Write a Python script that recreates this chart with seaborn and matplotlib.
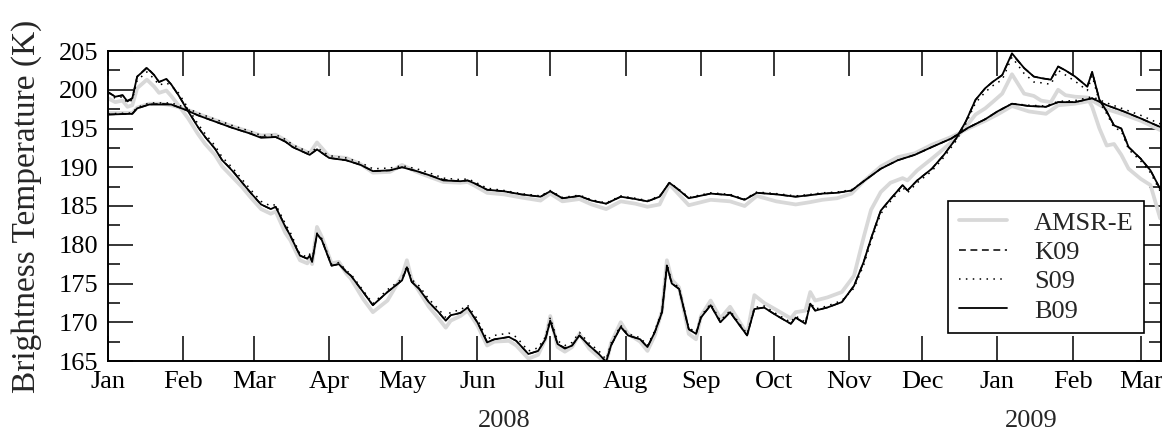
import numpy as np
import pandas as pd
import matplotlib
matplotlib.use("Agg")
import matplotlib.pyplot as plt
import matplotlib.dates as mdates
import matplotlib.transforms as mtransforms
from matplotlib.lines import Line2D
from matplotlib.ticker import MultipleLocator
from matplotlib import font_manager
import seaborn as sns

START = "2008-01-01"

# ---------------- lower (more variable) curve family ----------------
days_lo = [0, 3, 6, 8, 10, 12, 16, 19, 21, 24,
           26, 29, 33, 37, 40, 44, 47, 51, 55, 59,
           63, 67, 69, 73, 75, 79, 82, 83, 84, 86,
           88, 92, 95, 98, 100, 105, 109, 115, 121, 123,
           125, 128, 132, 136, 139, 141, 145, 148, 152, 156,
           159, 165, 168, 173, 177, 180, 182, 185, 188, 191,
           194, 198, 202, 205, 207, 211, 214, 219, 222, 225,
           228, 230, 232, 235, 239, 242, 244, 248, 252, 256,
           259, 263, 266, 270, 275, 281, 283, 287, 289, 291,
           296, 302, 307, 311, 314, 318, 322, 327, 329, 333,
           339, 344, 349, 353, 357, 361, 364, 368, 372, 377,
           381, 384, 388, 391, 394, 398, 403, 405, 408, 411,
           414, 417, 420, 425, 429, 433]

amsr_lo = [198.9, 198.4, 198.6, 197.8, 198.0, 200.2, 201.3, 200.4, 199.6, 199.9,
           199.2, 198.0, 196.3, 194.3, 193.0, 191.6, 190.1, 188.8, 187.5, 186.0,
           184.6, 184.0, 184.3, 181.5, 180.6, 178.0, 177.6, 178.2, 177.5, 182.3,
           181.0, 177.6, 177.8, 176.3, 175.6, 173.0, 171.3, 172.8, 176.0, 178.0,
           175.5, 174.0, 172.0, 170.5, 169.3, 170.2, 170.8, 171.5, 169.6, 167.0,
           167.5, 167.6, 167.0, 165.3, 165.8, 167.8, 170.8, 166.8, 166.2, 166.8,
           168.5, 166.6, 165.5, 164.7, 167.3, 170.0, 168.5, 167.5, 166.3, 168.3,
           171.5, 178.0, 175.5, 174.5, 168.5, 167.8, 170.8, 172.8, 170.5, 172.0,
           170.5, 168.5, 173.5, 172.5, 171.6, 170.5, 171.3, 171.5, 173.9, 172.8,
           173.2, 173.9, 176.0, 181.0, 184.5, 186.8, 188.0, 188.6, 188.3, 189.6,
           191.1, 192.4, 193.8, 195.2, 196.8, 197.6, 198.4, 199.5, 202.0, 199.5,
           199.2, 198.6, 198.4, 200.0, 199.3, 199.1, 199.0, 197.8, 195.0, 192.8,
           193.0, 191.6, 189.8, 188.5, 187.7, 183.4]

k09_lo = [199.7, 199.1, 199.3, 198.6, 198.9, 201.7, 202.9, 201.9, 201.0, 201.4,
          200.7, 199.3, 197.3, 195.2, 193.9, 192.4, 190.9, 189.7, 188.1, 186.6,
          185.2, 184.6, 184.9, 182.4, 181.2, 178.6, 178.2, 178.6, 177.8, 181.4,
          180.6, 177.3, 177.5, 176.6, 176.0, 173.9, 172.2, 173.9, 175.4, 177.1,
          175.2, 174.4, 172.6, 171.3, 170.2, 170.9, 171.2, 171.9, 170.0, 167.5,
          167.8, 168.1, 167.6, 165.9, 166.3, 167.8, 170.2, 167.2, 166.7, 167.0,
          168.3, 167.0, 165.9, 164.9, 167.0, 169.4, 168.3, 167.8, 166.8, 168.7,
          171.3, 177.3, 175.0, 174.3, 169.1, 168.5, 170.6, 172.2, 170.0, 171.3,
          170.0, 168.3, 171.7, 171.9, 170.9, 169.8, 170.6, 169.8, 172.4, 171.5,
          171.9, 172.6, 174.7, 177.8, 180.8, 184.4, 185.9, 187.7, 187.0, 188.3,
          189.8, 191.6, 193.7, 195.9, 198.7, 200.2, 201.0, 201.9, 204.6, 202.8,
          201.7, 201.5, 201.3, 203.0, 202.5, 201.7, 200.4, 202.3, 198.7, 197.2,
          195.4, 195.0, 192.6, 191.1, 189.6, 187.2]

s09_lo = [199.5, 198.9, 199.1, 198.3, 198.7, 201.2, 202.3, 201.4, 200.6, 200.9,
          200.5, 199.6, 197.6, 195.6, 194.3, 192.8, 191.3, 190.0, 188.5, 187.0,
          185.6, 185.0, 185.2, 182.7, 181.6, 178.8, 178.4, 178.8, 178.0, 181.5,
          180.8, 177.5, 177.7, 176.7, 176.2, 174.1, 172.4, 174.2, 175.6, 177.3,
          175.5, 174.7, 173.0, 171.7, 170.6, 171.3, 171.6, 172.2, 170.4, 167.8,
          168.3, 168.6, 168.1, 166.3, 166.7, 168.1, 170.6, 167.6, 167.0, 167.4,
          168.7, 167.3, 166.3, 165.2, 167.3, 169.6, 168.5, 168.0, 167.0, 168.9,
          171.5, 177.6, 175.2, 174.5, 169.3, 168.7, 170.8, 172.4, 170.2, 171.5,
          170.2, 168.5, 171.9, 172.1, 171.1, 170.0, 170.8, 170.0, 172.6, 171.7,
          172.1, 172.8, 174.4, 177.4, 180.4, 184.0, 185.6, 187.4, 186.7, 188.0,
          189.5, 191.3, 193.4, 195.6, 198.3, 199.7, 200.5, 201.3, 204.2, 202.1,
          201.0, 200.9, 200.7, 202.5, 201.9, 201.1, 199.9, 201.8, 198.4, 196.9,
          195.1, 194.7, 192.3, 190.8, 189.3, 186.9]

b09_lo = [199.7, 199.1, 199.3, 198.5, 198.9, 201.7, 202.8, 201.9, 201.0, 201.4,
          200.7, 199.3, 197.2, 195.2, 193.9, 192.4, 190.9, 189.6, 188.1, 186.6,
          185.2, 184.6, 184.9, 182.3, 181.2, 178.6, 178.2, 178.6, 177.8, 181.4,
          180.6, 177.3, 177.5, 176.5, 176.0, 173.9, 172.2, 173.9, 175.4, 177.1,
          175.2, 174.3, 172.6, 171.3, 170.2, 170.9, 171.2, 171.9, 170.0, 167.4,
          167.8, 168.1, 167.6, 165.9, 166.3, 167.8, 170.2, 167.2, 166.6, 167.0,
          168.3, 167.0, 165.9, 164.9, 167.0, 169.4, 168.3, 167.8, 166.8, 168.7,
          171.3, 177.3, 175.0, 174.3, 169.1, 168.5, 170.6, 172.2, 170.0, 171.3,
          170.0, 168.3, 171.7, 171.9, 170.9, 169.8, 170.6, 169.8, 172.4, 171.5,
          171.9, 172.6, 174.7, 177.8, 180.8, 184.4, 185.9, 187.7, 187.0, 188.3,
          189.8, 191.6, 193.7, 195.9, 198.7, 200.2, 201.0, 201.9, 204.7, 202.8,
          201.7, 201.5, 201.3, 203.0, 202.5, 201.7, 200.4, 202.3, 198.7, 197.2,
          195.4, 195.0, 192.6, 191.1, 189.6, 187.2]

# ---------------- upper (smooth) curve family ----------------
days_up = [0, 10, 12, 17, 22, 26, 32, 37, 44, 51,
           58, 63, 69, 73, 76, 83, 86, 91, 98, 104,
           109, 116, 121, 127, 132, 138, 145, 148, 151, 156,
           163, 170, 178, 182, 187, 194, 199, 205, 211, 217,
           222, 227, 231, 234, 239, 248, 256, 262, 267, 275,
           283, 289, 294, 300, 306, 311, 318, 325, 332, 339,
           347, 354, 361, 366, 372, 379, 386, 391, 398, 405,
           411, 418, 425, 433]

amsr_up = [197.0, 197.0, 197.7, 198.2, 198.2, 198.0, 197.5, 196.9, 196.1, 195.3,
           194.6, 194.1, 194.2, 193.5, 192.8, 191.8, 193.2, 191.4, 191.2, 190.4,
           189.3, 189.4, 190.3, 189.4, 188.8, 188.1, 188.0, 188.1, 187.6, 186.7,
           186.5, 186.1, 185.7, 186.6, 185.6, 185.9, 185.2, 184.6, 185.6, 185.3,
           184.9, 185.2, 187.8, 186.8, 185.1, 185.8, 185.6, 185.0, 186.3, 185.6,
           185.2, 185.5, 185.8, 186.0, 186.6, 188.2, 190.1, 191.3, 191.8, 192.9,
           193.9, 195.0, 196.0, 196.8, 197.9, 197.2, 196.9, 198.0, 198.2, 198.6,
           197.5, 196.8, 196.0, 194.8]

k09_up = [196.8, 196.9, 197.6, 198.1, 198.2, 198.1, 197.4, 196.7, 195.9, 195.1,
          194.4, 193.9, 193.9, 193.3, 192.6, 191.6, 192.3, 191.2, 190.9, 190.3,
          189.5, 189.6, 190.0, 189.5, 189.0, 188.4, 188.2, 188.3, 187.9, 187.1,
          186.9, 186.5, 186.2, 186.9, 186.0, 186.3, 185.7, 185.3, 186.2, 185.9,
          185.6, 186.2, 188.0, 187.3, 186.0, 186.6, 186.4, 185.8, 186.7, 186.5,
          186.2, 186.4, 186.6, 186.7, 187.0, 188.2, 189.8, 190.9, 191.6, 192.6,
          193.7, 195.1, 196.2, 197.2, 198.2, 197.9, 197.8, 198.4, 198.4, 198.9,
          198.0, 197.2, 196.3, 195.2]

s09_up = [196.9, 197.0, 197.7, 198.3, 198.3, 198.3, 197.7, 197.0, 196.2, 195.4,
          194.7, 194.1, 194.2, 193.6, 192.9, 191.9, 192.5, 191.5, 191.2, 190.6,
          189.8, 189.9, 190.2, 189.8, 189.3, 188.6, 188.4, 188.5, 188.1, 187.3,
          187.0, 186.6, 186.3, 187.0, 186.1, 186.4, 185.8, 185.4, 186.3, 186.0,
          185.7, 186.3, 188.0, 187.4, 186.1, 186.7, 186.5, 185.9, 186.8, 186.6,
          186.3, 186.5, 186.7, 186.8, 187.1, 188.2, 189.8, 190.9, 191.6, 192.6,
          193.7, 195.1, 196.2, 197.2, 198.2, 198.0, 197.9, 198.5, 198.6, 199.1,
          198.3, 197.5, 196.7, 195.6]

b09_up = [196.8, 196.9, 197.6, 198.1, 198.1, 198.1, 197.4, 196.7, 195.9, 195.1,
          194.4, 193.8, 193.9, 193.3, 192.6, 191.6, 192.3, 191.2, 190.9, 190.3,
          189.5, 189.6, 190.0, 189.5, 189.0, 188.3, 188.2, 188.3, 187.9, 187.1,
          186.9, 186.5, 186.2, 186.9, 186.0, 186.3, 185.7, 185.3, 186.2, 185.9,
          185.6, 186.2, 188.0, 187.3, 186.0, 186.6, 186.4, 185.8, 186.7, 186.5,
          186.2, 186.4, 186.6, 186.7, 187.0, 188.2, 189.8, 190.9, 191.6, 192.6,
          193.7, 195.1, 196.2, 197.2, 198.2, 197.9, 197.8, 198.4, 198.4, 198.9,
          198.0, 197.2, 196.3, 195.2]

series_names = ["AMSR-E", "K09", "S09", "B09"]
year_labels = ["2008", "2009"]
year_label_dates = ["2008-06-12", "2009-01-15"]

# ---------------- styling ----------------
sns.set_style("ticks")
serif_candidates = ["Liberation Serif", "Nimbus Roman", "Times New Roman", "DejaVu Serif"]
installed = {f.name for f in font_manager.fontManager.ttflist}
serif_list = [f for f in serif_candidates if f in installed] or ["DejaVu Serif"]
plt.rcParams["font.family"] = "serif"
plt.rcParams["font.serif"] = serif_list
plt.rcParams["axes.linewidth"] = 1.4

styles = {
    "AMSR-E": dict(color="#d8d8d8", linewidth=2.7, linestyle="-"),
    "K09": dict(color="black", linewidth=1.1, linestyle=(0, (4.5, 3.0))),
    "S09": dict(color="black", linewidth=1.1, linestyle=(0, (1.0, 3.5))),
    "B09": dict(color="black", linewidth=1.3, linestyle="-"),
}

def to_dates(days):
    return pd.Timestamp(START) + pd.to_timedelta(np.asarray(days), unit="D")

families = [
    (days_lo, {"AMSR-E": amsr_lo, "K09": k09_lo, "S09": s09_lo, "B09": b09_lo}),
    (days_up, {"AMSR-E": amsr_up, "K09": k09_up, "S09": s09_up, "B09": b09_up}),
]

fig = plt.figure(figsize=(11.62, 4.32), dpi=100)
ax = fig.add_axes([108 / 1162, 1 - 361 / 432, (1161 - 108) / 1162, 310 / 432])

for name in series_names:
    for days, vals in families:
        df = pd.DataFrame({"date": to_dates(days), "tb": vals[name]})
        sns.lineplot(data=df, x="date", y="tb", ax=ax, estimator=None, sort=False,
                     legend=False, **styles[name])

ax.set_xlim(pd.Timestamp("2008-01-01"), pd.Timestamp("2009-03-09 08:00"))
ax.set_ylim(165, 205)
ax.xaxis.set_major_locator(mdates.MonthLocator())
ax.xaxis.set_major_formatter(mdates.DateFormatter("%b"))
ax.yaxis.set_major_locator(MultipleLocator(5))
ax.yaxis.set_minor_locator(MultipleLocator(2.5))
ax.tick_params(which="both", direction="in", top=True, right=True, width=1.1,
               labelsize=19, colors="black")
ax.tick_params(which="major", length=18, pad=7)
ax.tick_params(which="minor", length=8.5)
ax.set_xlabel("")
ax.set_ylabel("Brightness Temperature (K)", fontsize=24)
ax.yaxis.set_label_coords(-0.063, 0.5)
for s in ax.spines.values():
    s.set_visible(True)
    s.set_linewidth(1.4)
    s.set_color("black")

trans = mtransforms.blended_transform_factory(ax.transData, ax.transAxes)
for lab, d in zip(year_labels, year_label_dates):
    ax.text(mdates.date2num(pd.Timestamp(d)), -0.194, lab, transform=trans,
            ha="center", va="center", fontsize=19)

handles = [Line2D([], [], **styles[n]) for n in series_names]
leg = ax.legend(handles, series_names, loc="lower right", bbox_to_anchor=(0.984, 0.09),
                borderaxespad=0, fontsize=19, frameon=True, fancybox=False,
                framealpha=1, edgecolor="black", handlelength=1.85,
                handletextpad=1.0, labelspacing=0.22, borderpad=0.4)
leg.get_frame().set_linewidth(1.2)

fig.savefig("out.png", dpi=100)
